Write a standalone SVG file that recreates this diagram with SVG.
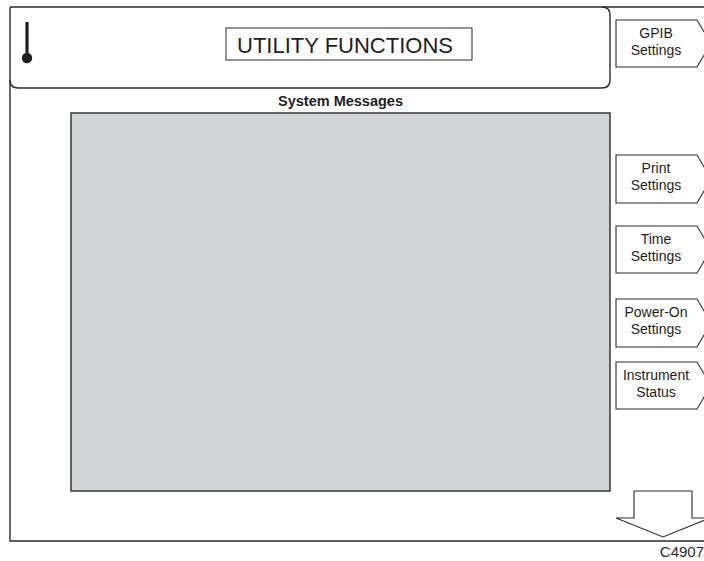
<svg xmlns="http://www.w3.org/2000/svg" width="704" height="561" viewBox="0 0 704 561">
  <style>
    .frame { fill: none; stroke: #2b2b2b; stroke-width: 1.4; }
    .key { fill: #ffffff; stroke: #2b2b2b; stroke-width: 1.1; }
    .lbl { font-family: "Liberation Sans", Arial, sans-serif; font-size: 14px; fill: #1e1e1e; text-anchor: middle; }
  </style>
  <rect x="0" y="0" width="704" height="561" fill="#ffffff"/>

  <!-- screen outline (open on the right) -->
  <g id="screen">
    <path class="frame" d="M10,7 H704 M10,7 V541 H704"/>
    <!-- header panel -->
    <path class="frame" d="M10,80 Q10,88 18,88 H602 Q610,88 610,80 V15 Q610,7 602,7"/>
  </g>

  <!-- thermometer-style status icon -->
  <g id="status-icon">
    <line x1="27" y1="22" x2="27" y2="56" stroke="#1e1e1e" stroke-width="3.2"/>
    <circle cx="27" cy="58" r="5.2" fill="#1e1e1e"/>
  </g>

  <g id="title">
    <rect x="226" y="28" width="246" height="32" fill="#ffffff" stroke="#2b2b2b" stroke-width="1"/>
    <text x="345" y="52.5" font-family="'Liberation Sans', Arial, sans-serif" font-size="22" fill="#1e1e1e" text-anchor="middle">UTILITY FUNCTIONS</text>
  </g>

  <g id="messages">
    <text x="340.5" y="106" font-family="'Liberation Sans', Arial, sans-serif" font-size="14.5" font-weight="bold" fill="#1e1e1e" text-anchor="middle">System Messages</text>
    <rect x="71" y="113" width="539" height="378" fill="#d3d4d6" stroke="#2b2b2b" stroke-width="1.4"/>
  </g>

  <!-- soft keys -->
  <g id="key-gpib">
    <path class="key" d="M616,20 H697 L711,43.5 L697,67 H616 Z"/>
    <text class="lbl" x="656" y="38">GPIB</text>
    <text class="lbl" x="656" y="55">Settings</text>
  </g>
  <g id="key-print">
    <path class="key" d="M616,155 H697 L711,179 L697,203 H616 Z"/>
    <text class="lbl" x="656" y="173">Print</text>
    <text class="lbl" x="656" y="190">Settings</text>
  </g>
  <g id="key-time">
    <path class="key" d="M616,226 H697 L711,249.5 L697,273 H616 Z"/>
    <text class="lbl" x="656" y="244">Time</text>
    <text class="lbl" x="656" y="261">Settings</text>
  </g>
  <g id="key-poweron">
    <path class="key" d="M616,299 H697 L711,323 L697,347 H616 Z"/>
    <text class="lbl" x="656" y="317">Power-On</text>
    <text class="lbl" x="656" y="334">Settings</text>
  </g>
  <g id="key-instrument">
    <path class="key" d="M616,362 H697 L711,385.5 L697,409 H616 Z"/>
    <text class="lbl" x="656" y="380">Instrument</text>
    <text class="lbl" x="656" y="397">Status</text>
  </g>

  <!-- scroll-down arrow -->
  <g id="down-arrow">
    <path class="key" d="M634,491 H692 V518 H710 L663,537 L616,518 H634 Z"/>
  </g>

  <text x="704" y="557" font-family="'Liberation Sans', Arial, sans-serif" font-size="15" fill="#2b2b2b" text-anchor="end">C4907</text>
</svg>
